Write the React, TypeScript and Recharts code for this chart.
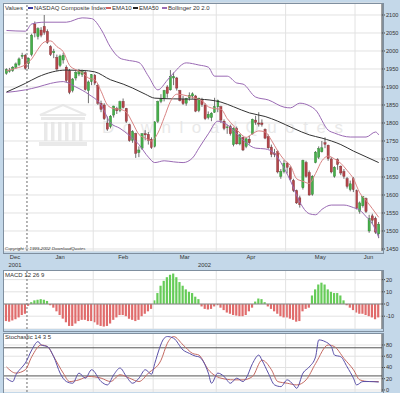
import React from "react";
import {
  ComposedChart,
  Bar,
  Line,
  XAxis,
  YAxis,
  CartesianGrid,
  ReferenceLine,
  Cell,
} from "recharts";

// trading days 20 Dec 2001 .. 12 Jun 2002, one entry per day
const monthNames = ["Dec", "Jan", "Feb", "Mar", "Apr", "May", "Jun"];
const monthFirstDay = [0, 7, 28, 47, 67, 89, 111];
const yearNames = ["2001", "2002"];
const yearFirstDay = [0, 7];

const opens = [
  1938, 1945, 1946, 1955, 1962, 1985, 1988,
  1965, 1990, 2075, 2040, 2058, 2068, 2054, 2012, 1995, 1982,
  1960, 1975, 1955, 1945, 1890, 1925, 1936, 1935, 1940, 1890, 1915,
  1932, 1905, 1855, 1850, 1800, 1790, 1822, 1840, 1835, 1860,
  1840, 1795, 1752, 1770, 1718, 1730, 1770, 1768, 1755,
  1735, 1805, 1860, 1868, 1900, 1892, 1925, 1925, 1890, 1865,
  1855, 1870, 1875, 1875, 1835, 1865, 1850, 1815, 1815, 1830,
  1845, 1845, 1805, 1788, 1790, 1740, 1785, 1742, 1760, 1735,
  1755, 1770, 1808, 1800, 1800, 1782, 1762, 1733, 1715, 1720,
  1652, 1665,
  1688, 1675, 1640, 1612, 1592, 1620, 1690, 1662, 1602, 1690,
  1705, 1720, 1745, 1738, 1700, 1652, 1698, 1680, 1665, 1645,
  1615, 1645,
  1612, 1555, 1570, 1590, 1500, 1542, 1535, 1492,
];
const highs = [
  1952, 1953, 1958, 1968, 1982, 1995, 1992,
  1982, 2048, 2082, 2066, 2066, 2100, 2060, 2016, 2006, 1990,
  1990, 1995, 1960, 1950, 1925, 1945, 1950, 1948, 1945, 1918, 1936,
  1936, 1908, 1862, 1855, 1818, 1822, 1848, 1845, 1862, 1868,
  1842, 1798, 1780, 1773, 1735, 1772, 1780, 1775, 1760,
  1805, 1862, 1880, 1892, 1905, 1947, 1940, 1928, 1892, 1875,
  1870, 1885, 1885, 1878, 1870, 1870, 1855, 1832, 1830, 1870,
  1865, 1848, 1810, 1795, 1795, 1788, 1790, 1770, 1762, 1760,
  1765, 1812, 1820, 1830, 1810, 1785, 1768, 1740, 1728, 1725,
  1672, 1697,
  1692, 1680, 1645, 1615, 1598, 1698, 1695, 1668, 1655, 1722,
  1735, 1750, 1760, 1740, 1705, 1680, 1702, 1682, 1672, 1650,
  1640, 1650,
  1615, 1582, 1597, 1593, 1545, 1548, 1540, 1525,
];
const lows = [
  1934, 1940, 1942, 1950, 1958, 1978, 1948,
  1950, 1985, 2038, 2032, 2038, 2045, 2020, 1986, 1980, 1945,
  1955, 1965, 1912, 1880, 1885, 1918, 1930, 1928, 1890, 1855, 1905,
  1905, 1850, 1830, 1808, 1778, 1785, 1815, 1825, 1830, 1840,
  1800, 1748, 1745, 1703, 1705, 1725, 1752, 1740, 1728,
  1732, 1800, 1855, 1860, 1870, 1890, 1905, 1890, 1860, 1850,
  1848, 1862, 1868, 1830, 1830, 1845, 1808, 1810, 1805, 1828,
  1830, 1800, 1780, 1770, 1765, 1735, 1740, 1738, 1722, 1730,
  1740, 1768, 1795, 1790, 1790, 1755, 1728, 1705, 1705, 1660,
  1645, 1660,
  1660, 1640, 1608, 1575, 1565, 1615, 1648, 1598, 1598, 1688,
  1700, 1718, 1730, 1695, 1660, 1648, 1670, 1655, 1645, 1618,
  1610, 1608,
  1560, 1548, 1565, 1550, 1495, 1520, 1492, 1480,
];
const closes = [
  1948, 1946, 1955, 1964, 1978, 1988, 1952,
  1980, 2044, 2050, 2062, 2044, 2052, 2024, 1990, 1998, 1950,
  1986, 1988, 1918, 1885, 1922, 1940, 1945, 1943, 1893, 1914, 1934,
  1911, 1855, 1838, 1812, 1783, 1819, 1847, 1834, 1859, 1843,
  1805, 1751, 1776, 1716, 1725, 1770, 1767, 1752, 1732,
  1803, 1859, 1866, 1890, 1882, 1930, 1929, 1897, 1862, 1854,
  1868, 1877, 1881, 1833, 1869, 1851, 1812, 1824, 1827, 1845,
  1862, 1808, 1785, 1789, 1770, 1785, 1742, 1767, 1725, 1756,
  1745, 1810, 1802, 1797, 1796, 1758, 1731, 1713, 1713, 1664,
  1665, 1688,
  1677, 1644, 1613, 1578, 1573, 1696, 1652, 1600, 1652, 1719,
  1729, 1731, 1741, 1701, 1664, 1677, 1685, 1661, 1652, 1624,
  1631, 1615,
  1563, 1578, 1595, 1554, 1535, 1530, 1497, 1519,
];

// overlay lines, read as [day, value]
const ema10Pts = [
  [0, 1945], [3, 1952], [6, 1962], [8, 1978], [10, 2005], [12, 2025], [14, 2028],
  [16, 2012], [18, 1998], [20, 1960], [22, 1948], [24, 1940], [26, 1925], [28, 1920],
  [30, 1888], [32, 1850], [34, 1840], [36, 1838], [38, 1830], [40, 1800], [42, 1768],
  [44, 1758], [46, 1750], [48, 1772], [50, 1815], [52, 1860], [54, 1880], [56, 1878],
  [58, 1874], [60, 1868], [62, 1862], [64, 1845], [66, 1840], [68, 1838], [70, 1812],
  [72, 1792], [74, 1772], [76, 1760], [78, 1770], [80, 1778], [82, 1775], [84, 1752],
  [86, 1722], [88, 1698], [90, 1682], [92, 1645], [94, 1638], [96, 1632], [98, 1660],
  [100, 1695], [102, 1708], [104, 1700], [106, 1688], [108, 1668], [110, 1645],
  [112, 1606], [114, 1585], [116, 1562], [118, 1538],
];
const ema50Pts = [
  [0, 1886], [6, 1910], [10, 1928], [19, 1947], [24, 1946], [28, 1942], [33, 1920],
  [37, 1908], [40, 1897], [44, 1880], [47, 1869], [53, 1867], [61, 1866], [68, 1858],
  [72, 1845], [77, 1828], [82, 1818], [86, 1805], [91, 1785], [96, 1767], [100, 1758],
  [106, 1740], [110, 1722], [114, 1706], [118, 1690],
];
const bbUpperPts = [
  [0, 2057], [6, 2055], [8, 2075], [12, 2080], [19, 2080], [24, 2092], [27, 2090],
  [30, 2060], [33, 2010], [36, 1980], [38, 1975], [42, 1968], [45, 1930], [48, 1892],
  [51, 1919], [53, 1939], [57, 1967], [61, 1961], [64, 1955], [66, 1930], [70, 1930],
  [73, 1911], [75, 1908], [79, 1872], [83, 1864], [88, 1844], [90, 1842], [93, 1855],
  [96, 1848], [98, 1836], [102, 1780], [104, 1772], [109, 1761], [114, 1761],
  [117, 1775], [118, 1767],
];
const bbLowerPts = [
  [0, 1885], [6, 1892], [10, 1900], [14, 1910], [18, 1915], [22, 1900], [26, 1880],
  [30, 1850], [33, 1800], [36, 1785], [39, 1765], [42, 1740], [45, 1705], [47, 1690],
  [50, 1695], [53, 1692], [56, 1690], [59, 1703], [61, 1730], [64, 1770], [67, 1805],
  [70, 1795], [73, 1770], [76, 1745], [79, 1730], [82, 1728], [85, 1715], [87, 1690],
  [90, 1640], [93, 1580], [96, 1548], [98, 1545], [100, 1560], [103, 1572],
  [107, 1572], [110, 1565], [112, 1558], [114, 1540], [116, 1520], [118, 1482],
];

const macdHist = [
  -14, -14.5, -13.5, -12.5, -11, -9, -8,
  -1.5, 1.5, 3, 3.5, 4, 3.5, 2.5, -1, -3, -6,
  -9, -12, -15, -18, -18, -16, -14, -13, -13, -14, -14,
  -15, -17, -18, -18.5, -18, -16, -13, -11, -9, -9,
  -10, -12, -13, -14, -13, -10, -8, -6, -4,
  3, 9, 15, 19, 22, 24, 25, 22, 18, 15,
  12, 10, 9, 6, 4, -2, -4, -4.5, -4, -2,
  -1, -3, -5, -7, -8, -9, -9.5, -10, -10, -9,
  -6, -3, 2, 4.5, 4, 1.5, -2, -4, -6, -8,
  -10, -11,
  -11, -12, -13, -14.5, -14, -6, -4, -3, 7, 12,
  16, 17.5, 16, 12, 10, 9, 9, 7, 3, -1,
  -3, -5,
  -7, -8, -8, -9, -10, -11, -12.5, -11,
];

const stochKPts = [
  [0, 21], [2, 15], [3, 27], [5, 41], [6, 48], [8, 71], [10, 86], [11, 80], [13, 77],
  [15, 59], [17, 30], [19, 15], [21, 12], [23, 30], [25, 21], [27, 36], [30, 15],
  [32, 9], [34, 27], [36, 39], [38, 24], [40, 12], [42, 21], [44, 36], [46, 28],
  [47, 47], [50, 92], [51, 95], [53, 92], [56, 71], [58, 65], [60, 60], [61, 59],
  [64, 30], [65, 12], [67, 30], [69, 24], [71, 12], [73, 21], [75, 15], [76, 21],
  [78, 47], [80, 62], [81, 53], [83, 30], [85, 9], [87, 6], [89, 18], [91, 9], [92, 3],
  [94, 30], [96, 41], [98, 59], [99, 89], [101, 86], [103, 77], [104, 62], [106, 59],
  [108, 41], [110, 21], [111, 9], [113, 15], [115, 15], [118, 14],
];
const stochDPts = [
  [0, 41], [3, 30], [6, 36], [8, 59], [11, 80], [13, 77], [15, 59], [18, 30], [20, 15],
  [23, 18], [26, 24], [30, 21], [33, 15], [36, 27], [39, 21], [42, 15], [45, 30],
  [49, 53], [51, 83], [53, 95], [56, 80], [59, 65], [61, 62], [64, 36], [68, 21],
  [72, 18], [75, 18], [78, 24], [81, 53], [84, 36], [86, 15], [89, 12], [92, 9],
  [95, 18], [98, 47], [102, 80], [104, 77], [107, 56], [110, 36], [112, 18],
  [115, 15], [118, 15],
];

const priceTicks = [1450, 1500, 1550, 1600, 1650, 1700, 1750, 1800, 1850, 1900, 1950, 2000, 2050, 2100];
const macdTicks = [-10, 0, 10, 20];
const stochTicks = [0, 20, 40, 60, 80];
const stochLevels = [25, 75];

const FONT = "'Liberation Sans', Arial, sans-serif";
const BG = "#c4d8e9";
const BORDER = "#7f8f9f";
const GRID = "#e2e2e2";
const UP = "#46b04a";
const DOWN = "#b5464b";
const WATERMARK = "#e9e9e9";
const X_DOMAIN: [number, number] = [-1.1, 119.05];

const spread = (pts: number[][]) => {
  const out: (number | null)[] = closes.map(() => null);
  pts.forEach(([d, v]) => (out[d] = v));
  return out;
};
const ema10 = spread(ema10Pts);
const ema50 = spread(ema50Pts);
const bbUp = spread(bbUpperPts);
const bbLo = spread(bbLowerPts);
const stK = spread(stochKPts);
const stD = spread(stochDPts);

const rows = closes.map((c, i) => ({
  day: i,
  o: opens[i],
  h: highs[i],
  l: lows[i],
  c,
  ema10: ema10[i],
  ema50: ema50[i],
  bbUp: bbUp[i],
  bbLo: bbLo[i],
  macd: macdHist[i],
  k: stK[i],
  d: stD[i],
}));

const span = (starts: number[], k: number) => {
  const a = k === 0 ? X_DOMAIN[0] : starts[k] - 0.5;
  const b = k === starts.length - 1 ? X_DOMAIN[1] : starts[k + 1] - 0.5;
  return (a + b) / 2;
};
const monthCenters = monthFirstDay.map((_, k) => span(monthFirstDay, k));
const yearCenters = yearFirstDay.map((_, k) => span(yearFirstDay, k));
const monthEdges = monthFirstDay.slice(1).map((d) => d - 0.5);

const Candle = (p: any) => {
  const { x, y, width, height, payload } = p;
  const { o, h, l, c } = payload;
  const ppu = h > l ? height / (h - l) : 0;
  const top = y + (h - Math.max(o, c)) * ppu;
  const bot = y + (h - Math.min(o, c)) * ppu;
  const cx = x + width / 2;
  const up = c >= o;
  return (
    <g>
      <line x1={cx} x2={cx} y1={y} y2={y + height} stroke="#4a4a4a" strokeWidth={0.8} />
      <rect
        x={cx - 1.1}
        y={top}
        width={2.2}
        height={Math.max(0.8, bot - top)}
        fill={up ? UP : DOWN}
        stroke={up ? "#2b7a2e" : "#7d2a2e"}
        strokeWidth={0.4}
      />
    </g>
  );
};

const monthGrid = () =>
  monthEdges.map((e, k) => (
    <ReferenceLine
      key={"m" + k}
      x={e}
      stroke={k === 0 ? "#6a6a6a" : GRID}
      strokeDasharray={k === 0 ? "2 2" : undefined}
    />
  ));

const yTick = { fontSize: 5.6, fill: "#333", fontFamily: FONT };

const MonthTick = (p: any) => {
  const k = monthCenters.findIndex((m) => Math.abs(m - p.payload.value) < 0.01);
  return (
    <text x={p.x} y={p.y + 7.5} textAnchor="middle" fontSize={5.8} fill="#333" fontFamily={FONT}>
      {monthNames[k]}
    </text>
  );
};
const YearTick = (p: any) => {
  const k = yearCenters.findIndex((m) => Math.abs(m - p.payload.value) < 0.01);
  return (
    <text x={p.x} y={p.y + 6.5} textAnchor="middle" fontSize={5.8} fill="#333" fontFamily={FONT}>
      {yearNames[k]}
    </text>
  );
};

const txt = (left: number, top: number, s: string, extra: React.CSSProperties = {}) => (
  <div
    style={{
      position: "absolute",
      left,
      top,
      fontSize: 6,
      lineHeight: "7px",
      fontFamily: FONT,
      color: "#333",
      whiteSpace: "nowrap",
      ...extra,
    }}
  >
    {s}
  </div>
);

const dash = (left: number, color: string) => (
  <div style={{ position: "absolute", left, top: 7, width: 5, height: 1.5, background: color }} />
);

const panelBox = (top: number, height: number) => (
  <div
    style={{
      position: "absolute",
      left: 3,
      top,
      width: 379,
      height,
      background: "#fff",
    }}
  />
);
const panelBorder = (top: number, height: number) => (
  <div
    style={{
      position: "absolute",
      left: 2.5,
      top: top - 0.5,
      width: 379,
      height,
      border: `1px solid ${BORDER}`,
      pointerEvents: "none",
    }}
  />
);

// faint logo behind the price panel
const Logo = () => (
  <svg style={{ position: "absolute", left: 38, top: 104 }} width={50} height={44}>
    <polygon points="2,11 25,1 48,11" fill="none" stroke={WATERMARK} strokeWidth={2} />
    <rect x={3} y={13} width={44} height={3} fill={WATERMARK} />
    {[6, 13, 20, 27, 34, 41].map((cx) => (
      <rect key={cx} x={cx} y={18} width={3.5} height={19} fill={WATERMARK} />
    ))}
    <rect x={1} y={38} width={48} height={4} fill={WATERMARK} />
  </svg>
);

export default function App() {
  return (
    <div
      style={{
        position: "absolute",
        left: 0,
        top: 0,
        width: 400,
        height: 393,
        background: BG,
        overflow: "hidden",
      }}
    >
      {panelBox(3, 248)}
      {panelBox(270, 59)}
      {panelBox(333, 59)}

      <Logo />
      <div
        style={{
          position: "absolute",
          left: 102,
          top: 118,
          fontSize: 17,
          letterSpacing: 8.5,
          fontFamily: FONT,
          color: WATERMARK,
          whiteSpace: "nowrap",
        }}
      >
        DownloadQuotes
      </div>

      <div style={{ position: "absolute", left: 0, top: 0 }}>
        <ComposedChart width={400} height={268} data={rows} margin={{ top: 3, right: 0, bottom: 0, left: 3 }}>
          <CartesianGrid vertical={false} stroke={GRID} />
          <XAxis
            dataKey="day"
            type="number"
            domain={X_DOMAIN}
            allowDataOverflow
            ticks={monthCenters}
            interval={0}
            tick={(p: any) => <MonthTick {...p} />}
            axisLine={false}
            tickLine={false}
            tickSize={0}
            tickMargin={0}
            height={9}
          />
          <XAxis
            xAxisId="yr"
            dataKey="day"
            type="number"
            domain={X_DOMAIN}
            allowDataOverflow
            ticks={yearCenters}
            interval={0}
            tick={(p: any) => <YearTick {...p} />}
            axisLine={false}
            tickLine={false}
            tickSize={0}
            tickMargin={0}
            height={8}
          />
          <YAxis
            orientation="right"
            domain={[1444.4, 2133.3]}
            allowDataOverflow
            ticks={priceTicks}
            interval={0}
            width={18}
            tick={yTick}
            tickSize={3}
            tickMargin={1}
            axisLine={{ stroke: "#444" }}
            tickLine={{ stroke: "#444" }}
          />
          {monthGrid()}
          <Line dataKey="bbUp" stroke="#9a6ab4" strokeWidth={1} dot={false} connectNulls type="monotone" isAnimationActive={false} />
          <Line dataKey="bbLo" stroke="#9a6ab4" strokeWidth={1} dot={false} connectNulls type="monotone" isAnimationActive={false} />
          <Line dataKey="ema50" stroke="#333" strokeWidth={1} dot={false} connectNulls type="monotone" isAnimationActive={false} />
          <Line dataKey="ema10" stroke="#d98484" strokeWidth={1} dot={false} connectNulls type="monotone" isAnimationActive={false} />
          <Bar dataKey={(d: any) => [d.l, d.h]} barSize={3} shape={Candle} isAnimationActive={false} />
        </ComposedChart>
      </div>

      <div style={{ position: "absolute", left: 0, top: 270 }}>
        <ComposedChart width={400} height={59} data={rows} margin={{ top: 0, right: 0, bottom: 0, left: 3 }}>
          <CartesianGrid vertical={false} stroke={GRID} />
          <XAxis dataKey="day" type="number" domain={X_DOMAIN} allowDataOverflow hide />
          <YAxis
            orientation="right"
            domain={[-20.5, 27.9]}
            allowDataOverflow
            ticks={macdTicks}
            interval={0}
            width={18}
            tick={yTick}
            tickSize={3}
            tickMargin={1}
            axisLine={{ stroke: "#444" }}
            tickLine={{ stroke: "#444" }}
          />
          {monthGrid()}
          <ReferenceLine y={0} stroke="#8a8a8a" />
          <Bar dataKey="macd" barSize={2.2} isAnimationActive={false}>
            {rows.map((r, i) => (
              <Cell key={i} fill={r.macd >= 0 ? "#66cc58" : "#e06c6c"} />
            ))}
          </Bar>
        </ComposedChart>
      </div>

      <div style={{ position: "absolute", left: 0, top: 333 }}>
        <ComposedChart width={400} height={59} data={rows} margin={{ top: 0, right: 0, bottom: 0, left: 3 }}>
          <CartesianGrid vertical={false} stroke={GRID} />
          <XAxis dataKey="day" type="number" domain={X_DOMAIN} allowDataOverflow hide />
          <YAxis
            orientation="right"
            domain={[-3.6, 101.3]}
            allowDataOverflow
            ticks={stochTicks}
            interval={0}
            width={18}
            tick={yTick}
            tickSize={3}
            tickMargin={1}
            axisLine={{ stroke: "#444" }}
            tickLine={{ stroke: "#444" }}
          />
          {monthGrid()}
          {stochLevels.map((v) => (
            <ReferenceLine key={v} y={v} stroke="#555" />
          ))}
          <Line dataKey="d" stroke="#c46a62" strokeWidth={1} dot={false} connectNulls type="monotone" isAnimationActive={false} />
          <Line dataKey="k" stroke="#5a50a8" strokeWidth={1} dot={false} connectNulls type="monotone" isAnimationActive={false} />
        </ComposedChart>
      </div>

      {panelBorder(3, 249)}
      {panelBorder(270, 60)}
      {panelBorder(333, 60)}

      {txt(5, 5, "Values")}
      {dash(28, "#3a3aa0")}
      {txt(34, 5, "NASDAQ Composite Index")}
      {dash(106, "#d06060")}
      {txt(112, 5, "EMA10")}
      {dash(133, "#222")}
      {txt(139, 5, "EMA50")}
      {dash(162, "#9a6ab4")}
      {txt(168, 5, "Bollinger 20 2.0")}
      {txt(5, 246, "Copyright \u00a9 1999-2002 DownloadQuotes", { fontSize: 4.4, fontStyle: "italic", lineHeight: "5px" })}
      {txt(5, 272, "MACD 12 26 9")}
      {txt(5, 334, "Stochastic 14 3 5")}
    </div>
  );
}
